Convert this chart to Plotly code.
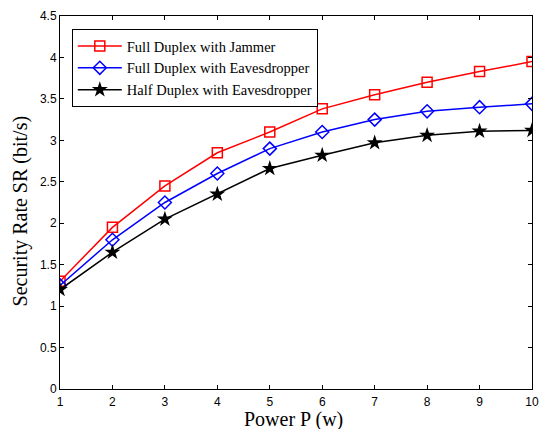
import plotly.graph_objects as go

power = [1, 2, 3, 4, 5, 6, 7, 8, 9, 10]
fd_jammer = [1.30, 1.95, 2.45, 2.85, 3.10, 3.38, 3.55, 3.70, 3.83, 3.95]
fd_eaves = [1.25, 1.80, 2.25, 2.60, 2.90, 3.10, 3.25, 3.35, 3.40, 3.44]
hd_eaves = [1.20, 1.65, 2.05, 2.35, 2.66, 2.82, 2.97, 3.06, 3.11, 3.12]
y_ticks = [0, 0.5, 1, 1.5, 2, 2.5, 3, 3.5, 4, 4.5]
y_labels = ["0", "0.5", "1", "1.5", "2", "2.5", "3", "3.5", "4", "4.5"]
x_title = "Power P (w)"
y_title = "Security Rate SR (bit/s)"

fig = go.Figure()
fig.add_trace(go.Scatter(x=power, y=fd_jammer, mode="lines+markers",
                         name="Full Duplex with Jammer",
                         line=dict(color="#ff0000", width=1.5),
                         marker=dict(symbol="square-open", size=10, color="#ff0000", line=dict(width=1.5))))
fig.add_trace(go.Scatter(x=power, y=fd_eaves, mode="lines+markers",
                         name="Full Duplex with Eavesdropper",
                         line=dict(color="#0000ff", width=1.5),
                         marker=dict(symbol="diamond-open", size=10, color="#0000ff", line=dict(width=1.5))))
fig.add_trace(go.Scatter(x=power, y=hd_eaves, mode="lines+markers",
                         name="Half Duplex with Eavesdropper",
                         line=dict(color="#000000", width=1.5),
                         marker=dict(symbol="star", size=12, color="#000000")))

axis_common = dict(showline=True, linecolor="black", linewidth=1, mirror="ticks",
                   ticks="inside", ticklen=4, tickcolor="black", showgrid=False,
                   zeroline=False, automargin=False,
                   tickfont=dict(family="Liberation Sans, Arial", size=12, color="black"))

title_font = dict(family="Liberation Serif, Times New Roman", size=20, color="black")

fig.update_layout(
    width=544, height=429,
    margin=dict(l=60, r=12, t=16, b=40),
    paper_bgcolor="white", plot_bgcolor="white",
    xaxis=dict(range=[1, 10], tickvals=power, ticktext=[str(p) for p in power],
               ticklabelstandoff=2, **axis_common),
    yaxis=dict(range=[0, 4.5], tickvals=y_ticks, ticktext=y_labels, **axis_common),
    legend=dict(x=0.025, y=0.965, xanchor="left", yanchor="top",
                bgcolor="white", bordercolor="black", borderwidth=1,
                font=dict(family="Liberation Serif, Times New Roman", size=14.5, color="black"),
                tracegroupgap=0, itemwidth=44),
    showlegend=True,
    annotations=[
        dict(text=x_title, xref="paper", yref="paper", x=0.494, y=-0.083,
             xanchor="center", yanchor="middle", showarrow=False, font=title_font),
        dict(text=y_title, xref="paper", yref="paper", x=-0.084, y=0.477,
             xanchor="center", yanchor="middle", showarrow=False, textangle=-90, font=title_font),
    ],
)

fig.write_html("out.html")
